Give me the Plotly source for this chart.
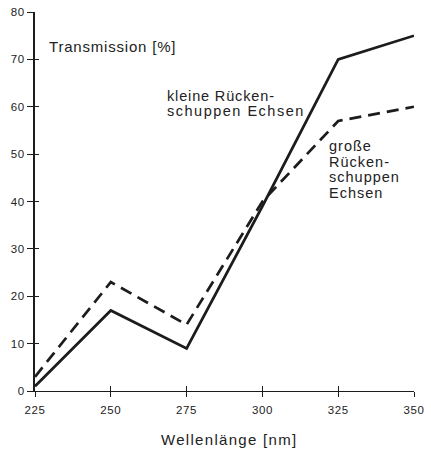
import plotly.graph_objects as go

wavelength = [225, 250, 275, 300, 325, 350]
kleine = [1, 17, 9, 39, 70, 75]
grosse = [3, 23, 14, 40, 57, 60]
x_ticks = [225, 250, 275, 300, 325, 350]
y_ticks = [0, 10, 20, 30, 40, 50, 60, 70, 80]

label_transmission = "Transmission [%]"
label_kleine = ["kleine Rücken-", "schuppen Echsen"]
label_grosse = ["große", "Rücken-", "schuppen", "Echsen"]
label_x = "Wellenlänge [nm]"

W, H = 431, 450
ML, MR, MT, MB = 35, 17, 12, 59
X0, X1 = 225, 350
Y0, Y1 = 0, 80

ink = "#1c1c1c"
txt = "#222222"
font_family = "Liberation Sans, Arial, Helvetica, sans-serif"


def px_x(px):
    return X0 + (px - ML) / (W - ML - MR) * (X1 - X0)


def px_y(py):
    return Y0 + (H - MB - py) / (H - MT - MB) * (Y1 - Y0)


def spaced(s, ls):
    return '<span style="letter-spacing:%.2fpx">%s</span>' % (ls, s)


fig = go.Figure()
fig.add_trace(go.Scatter(x=wavelength, y=kleine, mode="lines",
                         line=dict(color=ink, width=2.7), showlegend=False))
fig.add_trace(go.Scatter(x=wavelength, y=grosse, mode="lines",
                         line=dict(color=ink, width=2.7, dash="12px,7px"), showlegend=False))
# invisible trace to activate the secondary axes used for inside tick halves
fig.add_trace(go.Scatter(x=[wavelength[0]], y=[kleine[0]], xaxis="x2", yaxis="y2",
                         mode="markers", marker=dict(opacity=0), showlegend=False,
                         hoverinfo="skip"))

axis_common = dict(showgrid=False, zeroline=False, showline=True, linecolor=ink,
                   tickcolor=ink, tickwidth=1.3, ticks="outside", automargin=False,
                   tickfont=dict(family=font_family, size=11.5, color=txt))

fig.update_layout(
    width=W, height=H,
    margin=dict(l=ML, r=MR, t=MT, b=MB),
    paper_bgcolor="white", plot_bgcolor="white",
    xaxis=dict(range=[X0, X1], tickvals=x_ticks, linewidth=1.3, ticklen=5,
               ticklabelstandoff=3,
               ticktext=[spaced(str(v), 0.6) for v in x_ticks], **axis_common),
    yaxis=dict(range=[Y0, Y1], tickvals=y_ticks, linewidth=1.7, ticklen=6,
               ticktext=[spaced(str(v), 0.6) for v in y_ticks], **axis_common),
    xaxis2=dict(range=[X0, X1], tickvals=x_ticks, overlaying="x", matches="x",
                showgrid=False, zeroline=False, showline=False, ticks="inside",
                ticklen=5, tickwidth=1.3, tickcolor=ink, showticklabels=False, side="bottom"),
    yaxis2=dict(range=[Y0, Y1], tickvals=y_ticks, overlaying="y", matches="y",
                showgrid=False, zeroline=False, showline=False, ticks="inside",
                ticklen=4, tickwidth=1.3, tickcolor=ink, showticklabels=False, side="left"),
)


def add_text(text, px, py, ls, size=14.5, anchor="left"):
    fig.add_annotation(x=px_x(px), y=px_y(py), xref="x", yref="y",
                       text=spaced(text, ls), showarrow=False,
                       xanchor=anchor, yanchor="middle", borderpad=0,
                       font=dict(family=font_family, size=size, color=txt))


add_text(label_transmission, 48, 46, 0.8, size=15)
add_text(label_kleine[0], 166, 96, 0.85)
add_text(label_kleine[1], 166, 111, 1.5)
for i, line in enumerate(label_grosse):
    add_text(line, 328, 146 + 15.5 * i, 1.0)

fig.add_annotation(x=0.5, y=0, xref="paper", yref="paper", text=spaced(label_x, 1.3),
                   showarrow=False, xanchor="center", yanchor="middle",
                   xshift=229 - (ML + (W - ML - MR) / 2), yshift=-(439 - (H - MB)),
                   font=dict(family=font_family, size=15, color=txt))

fig.write_html("out.html", config={"displayModeBar": False},
               post_script="document.body.style.margin='0';")
